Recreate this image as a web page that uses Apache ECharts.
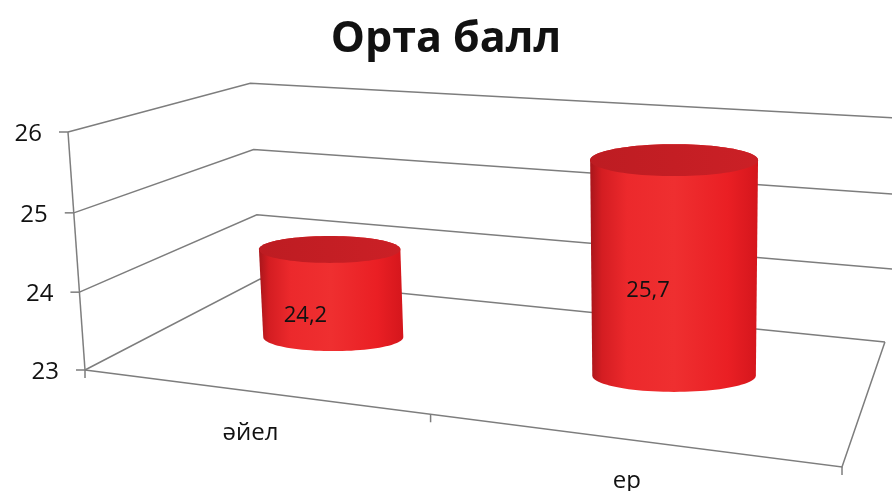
<!DOCTYPE html>
<html>
<head>
<meta charset="utf-8">
<script src="https://cdn.jsdelivr.net/npm/echarts@6/dist/echarts.min.js"></script>
<style>
  html, body { margin: 0; padding: 0; background: #ffffff; }
  #main { width: 892px; height: 491px; }
</style>
</head>
<body>
<div id="main"></div>
<script>
// ---- data ----
const titleText = 'Орта балл';
const categories = ['әйел', 'ер'];
const scores = [24.2, 25.7];
const scoreLabels = ['24,2', '25,7'];
const yTicks = [23, 24, 25, 26];
const yTickLabels = ['23', '24', '25', '26'];

// ---- perspective of the 3D box ----
// image of the box origin (front-left-bottom), of the unit point on each axis,
// and the vanishing point of each axis direction
const ORIGIN = [85, 370];
const AXES = [
  { unit: [842, 467], vanish: [-3889, -139] }, // X: along the categories
  { unit: [68, 132],  vanish: [673, 8600] },   // Y: value axis
  { unit: [260, 279], vanish: [1047, -130] }   // Z: depth
];
const AXIS_SCALE = AXES.map(function (a) {
  const dx = a.unit[0] - a.vanish[0], dy = a.unit[1] - a.vanish[1];
  return ((ORIGIN[0] - a.unit[0]) * dx + (ORIGIN[1] - a.unit[1]) * dy) / (dx * dx + dy * dy);
});
function proj(p) {
  let nx = ORIGIN[0], ny = ORIGIN[1], w = 1;
  for (let i = 0; i < 3; i++) {
    const k = p[i] * AXIS_SCALE[i];
    nx += k * AXES[i].vanish[0];
    ny += k * AXES[i].vanish[1];
    w += k;
  }
  return [nx / w, ny / w];
}

const LINE = { stroke: '#7d7d7d', lineWidth: 1.5, fill: null };
const FONT = '"Open Sans", "DejaVu Sans", sans-serif';
const BAR_HALF_WIDTH = 0.222;  // radius as a share of the category band
const BAR_DEPTH = 0.5;         // depth position of the bar axis (box depth = 1)
const TOP_FLATNESS = 0.19;     // ellipse height / width of the cylinder top
const BASE_FLATNESS = 0.2;     // same for the cylinder base

// normalised box coordinates from the hidden cartesian grid
function norm(params, api, cat, value) {
  const cs = params.coordSys;
  const pt = api.coord([cat, value]);
  return [(pt[0] - cs.x) / cs.width, (cs.y + cs.height - pt[1]) / cs.height];
}
function band(params, api) {
  return api.size([1, 0])[0] / params.coordSys.width;
}

function convexHull(points) {
  const pts = points.slice().sort(function (a, b) { return a[0] - b[0] || a[1] - b[1]; });
  const cross = function (o, a, b) { return (a[0] - o[0]) * (b[1] - o[1]) - (a[1] - o[1]) * (b[0] - o[0]); };
  const lower = [], upper = [];
  pts.forEach(function (p) {
    while (lower.length >= 2 && cross(lower[lower.length - 2], lower[lower.length - 1], p) <= 0) lower.pop();
    lower.push(p);
  });
  for (let i = pts.length - 1; i >= 0; i--) {
    const p = pts[i];
    while (upper.length >= 2 && cross(upper[upper.length - 2], upper[upper.length - 1], p) <= 0) upper.pop();
    upper.push(p);
  }
  upper.pop(); lower.pop();
  return lower.concat(upper);
}

// walls: one gridline per value tick, plus its tick mark and label
function renderWallLine(params, api) {
  const v = api.value(0);
  const Y = norm(params, api, 0, v)[1];
  const isFloor = params.dataIndex === 0;
  const xEnd = isFloor ? 1 : 1.08;
  const pts = [proj([0, Y, 0]), proj([0, Y, 1]), proj([xEnd, Y, 1])];
  const front = pts[0];
  return {
    type: 'group',
    children: [
      { type: 'polyline', shape: { points: pts }, style: LINE, silent: true },
      { type: 'line', shape: { x1: front[0] - 9, y1: front[1], x2: front[0], y2: front[1] }, style: LINE },
      {
        type: 'text',
        style: {
          text: yTickLabels[params.dataIndex],
          x: front[0] - 26, y: front[1] + 2,
          align: 'right', verticalAlign: 'middle',
          font: '24px ' + FONT, fill: '#111111'
        }
      }
    ]
  };
}

// floor outline and the front-left edge of the side wall
function renderFloor(params, api) {
  const yMin = yTicks[0], yMax = yTicks[yTicks.length - 1];
  const top = norm(params, api, 0, yMax)[1];
  const bottom = norm(params, api, 0, yMin)[1];
  const edges = [
    [proj([0, bottom, 0]), proj([0, top, 0])],
    [proj([0, bottom, 0]), proj([1, bottom, 0]), proj([1, bottom, 1])]
  ];
  return {
    type: 'group',
    children: edges.map(function (e) {
      return { type: 'polyline', shape: { points: e }, style: LINE };
    })
  };
}

// category labels and the tick marks on the front floor edge
function renderCategory(params, api) {
  const i = params.dataIndex;
  const c = norm(params, api, i, yTicks[0]);
  const b = band(params, api);
  const children = [];
  const edges = i === 0 ? [c[0] - b / 2, c[0] + b / 2] : [c[0] + b / 2];
  edges.forEach(function (x) {
    const p = proj([x, 0, 0]);
    children.push({ type: 'line', shape: { x1: p[0], y1: p[1], x2: p[0], y2: p[1] + 8 }, style: LINE });
  });
  const lp = proj([c[0], 0, 0]);
  children.push({
    type: 'text',
    style: {
      text: categories[i], x: lp[0], y: lp[1] + 42,
      align: 'center', verticalAlign: 'middle',
      font: '24px ' + FONT, fill: '#111111'
    }
  });
  return { type: 'group', children: children };
}

function ellipse(center, a, b, n) {
  const pts = [];
  for (let k = 0; k < n; k++) {
    const t = k / n * Math.PI * 2;
    pts.push([center[0] + a * Math.cos(t), center[1] + b * Math.sin(t)]);
  }
  return pts;
}

// cylinders: axis and width follow the box perspective, end caps are level ellipses
function renderCylinder(params, api) {
  const i = params.dataIndex;
  const v = api.value(1);
  const topPt = norm(params, api, i, v);
  const basePt = norm(params, api, i, yTicks[0]);
  const Xc = topPt[0], Yt = topPt[1], Yb = basePt[1];
  const rx = band(params, api) * BAR_HALF_WIDTH;
  const T = proj([Xc, Yt, BAR_DEPTH]);
  const B = proj([Xc, Yb, BAR_DEPTH]);
  const aT = (proj([Xc + rx, Yt, BAR_DEPTH])[0] - proj([Xc - rx, Yt, BAR_DEPTH])[0]) / 2;
  const aB = (proj([Xc + rx, Yb, BAR_DEPTH])[0] - proj([Xc - rx, Yb, BAR_DEPTH])[0]) / 2;
  const topRing = ellipse(T, aT, aT * TOP_FLATNESS, 96);
  const baseRing = ellipse(B, aB, aB * BASE_FLATNESS, 96);
  const hull = convexHull(topRing.concat(baseRing));
  const mid = proj([Xc, (Yt + Yb) / 2, BAR_DEPTH]);
  return {
    type: 'group',
    children: [
      {
        type: 'polygon', shape: { points: hull },
        style: {
          fill: new echarts.graphic.LinearGradient(0, 0, 1, 0, [
            { offset: 0, color: '#a8161b' },
            { offset: 0.07, color: '#d41d22' },
            { offset: 0.22, color: '#ec292c' },
            { offset: 0.5, color: '#ef2f30' },
            { offset: 0.82, color: '#ea1f24' },
            { offset: 1, color: '#d4161c' }
          ])
        }
      },
      {
        type: 'polygon', shape: { points: topRing },
        style: {
          fill: new echarts.graphic.LinearGradient(0, 0, 1, 0, [
            { offset: 0, color: '#bd1c22' },
            { offset: 1, color: '#cb2026' }
          ])
        }
      },
      {
        type: 'text',
        style: {
          text: scoreLabels[i], x: mid[0] - 26, y: mid[1] + 22,
          align: 'center', verticalAlign: 'middle',
          font: '22px ' + FONT, fill: '#111111'
        }
      }
    ]
  };
}

const chart = echarts.init(document.getElementById('main'), null, { renderer: 'canvas' });
chart.setOption({
  backgroundColor: '#ffffff',
  animation: false,
  title: {
    text: titleText,
    left: 'center',
    top: 13,
    textStyle: { fontFamily: FONT, fontWeight: 'bold', fontSize: 43, color: '#111111' }
  },
  grid: { left: 0, right: 0, top: 0, bottom: 0 },
  xAxis: { type: 'category', data: categories, show: false, boundaryGap: true },
  yAxis: { type: 'value', min: yTicks[0], max: yTicks[yTicks.length - 1], interval: 1, show: false },
  series: [
    {
      type: 'custom', name: 'walls', clip: false, silent: true, z: 1,
      renderItem: renderWallLine,
      data: yTicks.map(function (v) { return [v]; })
    },
    {
      type: 'custom', name: 'floor', clip: false, silent: true, z: 1,
      renderItem: renderFloor,
      data: [[0]]
    },
    {
      type: 'custom', name: 'categories', clip: false, silent: true, z: 1,
      renderItem: renderCategory,
      data: categories.map(function (c, i) { return [i]; })
    },
    {
      type: 'custom', name: 'Орта балл', clip: false, z: 2,
      renderItem: renderCylinder,
      data: scores.map(function (s, i) { return [i, s]; })
    }
  ]
});
</script>
</body>
</html>
